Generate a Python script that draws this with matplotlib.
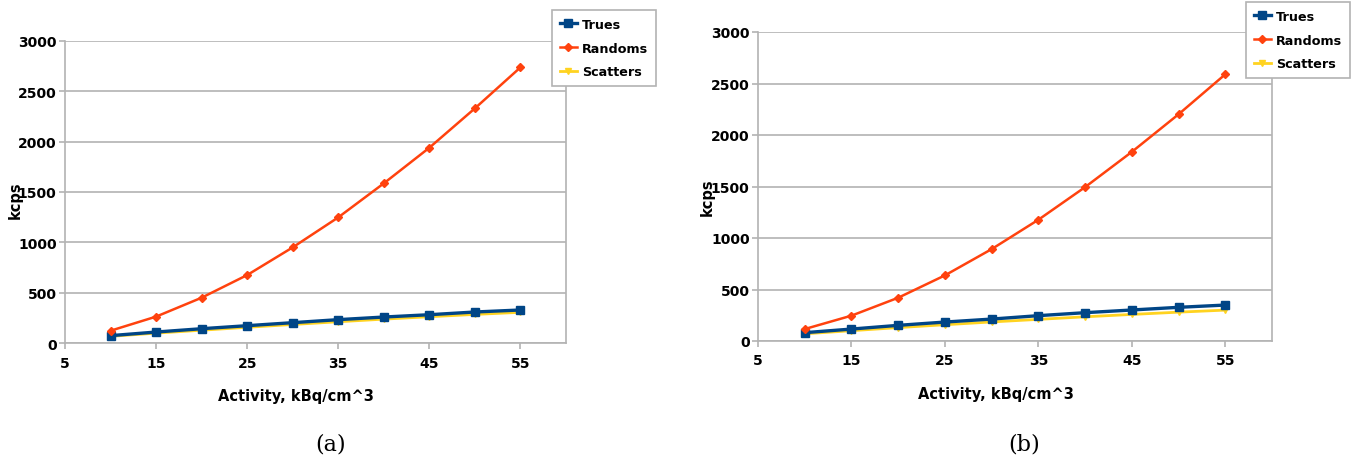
import matplotlib
matplotlib.use("Agg")
import matplotlib.pyplot as plt

# activity values (kBq/cm^3)
activity = [10, 15, 20, 25, 30, 35, 40, 45, 50, 55]

# panel (a)
trues_a = [73, 109, 142, 172, 202, 232, 258, 281, 308, 328]
randoms_a = [122, 262, 450, 675, 950, 1248, 1586, 1940, 2331, 2738]
scatters_a = [66, 98, 127, 156, 184, 211, 237, 261, 284, 305]

# panel (b)
trues_b = [81, 116, 152, 184, 213, 246, 275, 301, 327, 349]
randoms_b = [116, 246, 420, 637, 892, 1177, 1494, 1836, 2201, 2589]
scatters_b = [70, 100, 130, 158, 185, 210, 235, 258, 280, 300]

xticks = [5, 15, 25, 35, 45, 55]
yticks = [0, 500, 1000, 1500, 2000, 2500, 3000]

c_true = "#004586"
c_rand = "#ff420e"
c_scat = "#ffd320"
grid_c = "#b3b3b3"

W, H = 1358, 464
fig = plt.figure(figsize=(W / 100, H / 100), dpi=100)


def draw(ax, trues, randoms, scatters, legend_pos):
    ax.plot(activity, scatters, color=c_scat, lw=2, marker="v", ms=5, label="Scatters", zorder=3)
    ax.plot(activity, trues, color=c_true, lw=2.4, marker="s", ms=6, label="Trues", zorder=4)
    ax.plot(activity, randoms, color=c_rand, lw=1.8, marker="D", ms=4, label="Randoms", zorder=5)
    ax.set_xlim(5, 60)
    ax.set_ylim(0, 3000)
    ax.set_xticks(xticks)
    ax.set_yticks(yticks)
    ax.grid(axis="y", color=grid_c, lw=1.2)
    ax.set_axisbelow(True)
    for s in ["left", "bottom", "right"]:
        ax.spines[s].set_color(grid_c)
        ax.spines[s].set_linewidth(1.2)
    ax.spines["top"].set_visible(False)
    ax.tick_params(colors=grid_c, labelcolor="black", labelsize=10, length=4, width=1.2, pad=2)
    ax.tick_params(axis="x", pad=5)
    for lab in ax.get_xticklabels() + ax.get_yticklabels():
        lab.set_fontweight("bold")
    h, l = ax.get_legend_handles_labels()
    order = [1, 2, 0]
    leg = fig.legend([h[i] for i in order], [l[i] for i in order],
                     loc="upper left", bbox_to_anchor=legend_pos,
                     fancybox=False, edgecolor=grid_c, framealpha=1,
                     prop={"weight": "bold", "size": 9.2},
                     handlelength=1.35, handletextpad=0.4, borderpad=0.6,
                     labelspacing=0.85, borderaxespad=0)
    leg.get_frame().set_linewidth(1.2)


ax1 = fig.add_axes([65 / W, 1 - 344 / H, (566 - 65) / W, (344 - 42) / H])
draw(ax1, trues_a, randoms_a, scatters_a, (552 / W, 1 - 11 / H))
ax2 = fig.add_axes([758 / W, 1 - 342 / H, (1272 - 758) / W, (342 - 33) / H])
draw(ax2, trues_b, randoms_b, scatters_b, (1246 / W, 1 - 3 / H))

fig.text(296 / W, 1 - 397 / H, "Activity, kBq/cm^3", ha="center", va="center",
         fontsize=10.5, fontweight="bold")
fig.text(996 / W, 1 - 395 / H, "Activity, kBq/cm^3", ha="center", va="center",
         fontsize=10.5, fontweight="bold")
fig.text(15 / W, 1 - 200 / H, "kcps", rotation=90, ha="center", va="center",
         fontsize=10.5, fontweight="bold")
fig.text(707 / W, 1 - 197 / H, "kcps", rotation=90, ha="center", va="center",
         fontsize=10.5, fontweight="bold")

fig.text(331 / W, 1 - 445 / H, "(a)", ha="center", va="center", fontsize=16, family="DejaVu Serif")
fig.text(1024 / W, 1 - 445 / H, "(b)", ha="center", va="center", fontsize=16, family="DejaVu Serif")

fig.savefig("out.png", dpi=100)
